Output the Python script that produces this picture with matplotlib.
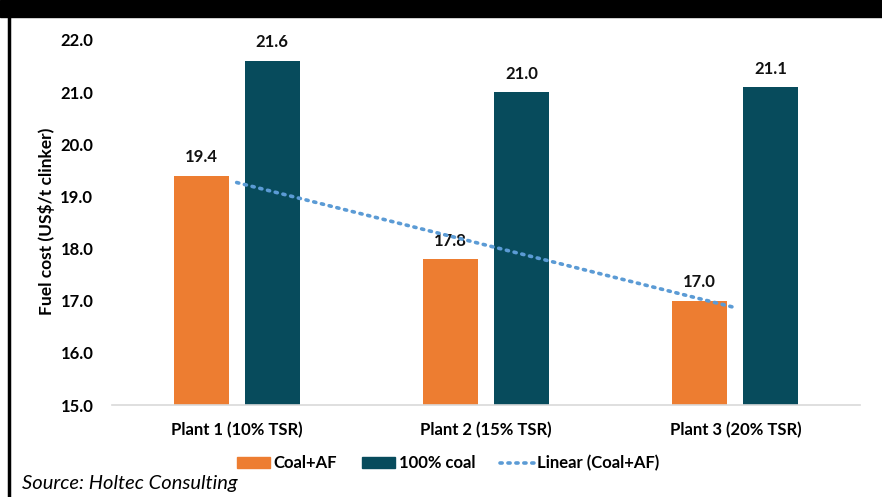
import numpy as np
import matplotlib.pyplot as plt
from matplotlib.patches import Rectangle, Patch
from matplotlib.lines import Line2D

plants = ["Plant 1 (10% TSR)", "Plant 2 (15% TSR)", "Plant 3 (20% TSR)"]
coal_af = [19.4, 17.8, 17.0]
coal_100 = [21.6, 21.0, 21.1]
y_ticks = [15.0, 16.0, 17.0, 18.0, 19.0, 20.0, 21.0, 22.0]

ORANGE = "#ED7D31"
TEAL = "#074B5C"
TREND = "#5B9BD5"

plt.rcParams['font.family'] = ['Lato', 'DejaVu Sans']


def main():
    fig = plt.figure(figsize=(8.82, 4.97), dpi=100, facecolor='white')
    ax = fig.add_axes([112 / 882, 1 - 405 / 497, 748 / 882, 365 / 497])

    x = np.arange(len(plants))
    width = 0.221
    off = 0.1426

    ax.bar(x - off, coal_af, width, color=ORANGE, zorder=2)
    ax.bar(x + off, coal_100, width, color=TEAL, zorder=2)

    for xi, v in zip(x - off, coal_af):
        ax.text(xi, v + 0.2, f"{v:.1f}", ha='center', va='bottom',
                fontsize=12, fontweight='bold', color='#111111')
    for xi, v in zip(x + off, coal_100):
        ax.text(xi, v + 0.2, f"{v:.1f}", ha='center', va='bottom',
                fontsize=12, fontweight='bold', color='#111111')

    # linear trendline through the Coal+AF values
    k, b = np.polyfit(x, coal_af, 1)
    ax.plot(x, k * x + b, linestyle=(0, (0.6, 1.6)), linewidth=2.6,
            dash_capstyle='round', color=TREND, zorder=3)

    ax.set_xlim(-0.5, 2.5)
    ax.set_ylim(15, 22)
    ax.set_yticks(y_ticks)
    ax.set_yticklabels([f"{t:.1f}" for t in y_ticks], fontsize=12,
                       fontweight='bold')
    ax.set_xticks(x)
    ax.set_xticklabels(plants, fontsize=12, fontweight='bold')
    ax.tick_params(length=0, pad=13.5, axis='y')
    ax.tick_params(length=0, pad=12, axis='x')
    for s in ['top', 'right', 'left']:
        ax.spines[s].set_visible(False)
    ax.spines['bottom'].set_color('#D9D9D9')
    ax.spines['bottom'].set_linewidth(1.2)

    fig.text(47 / 882, 1 - 221 / 497, "Fuel cost (US$/t clinker)", rotation=90,
             ha='center', va='center', fontsize=12.5, fontweight='bold')

    handles = [Patch(color=ORANGE), Patch(color=TEAL),
               Line2D([], [], linestyle=(0, (0.6, 1.6)), linewidth=2.6,
                      dash_capstyle='round', color=TREND)]
    fig.legend(handles, ["Coal+AF", "100% coal", "Linear (Coal+AF)"],
               loc='center', bbox_to_anchor=(448 / 882, 1 - 463 / 497), ncol=3,
               frameon=False, handlelength=2.0, handleheight=0.6,
               handletextpad=0.2, columnspacing=1.5, borderpad=0,
               prop={'size': 12, 'weight': 'bold'})

    fig.text(22 / 882, 1 - 484 / 497, "Source: Holtec Consulting", ha='left',
             va='center', fontsize=14.5, style='italic')

    # black header band and left border
    fig.patches.append(Rectangle((0, 1 - 17 / 497), 1, 17 / 497,
                                 transform=fig.transFigure, color='black'))
    fig.lines.append(Line2D([9 / 882, 9 / 882], [0, 1 - 17 / 497],
                            transform=fig.transFigure, color='black',
                            linewidth=2.5))

    fig.savefig("out.png", dpi=100)


if __name__ == "__main__":
    main()
